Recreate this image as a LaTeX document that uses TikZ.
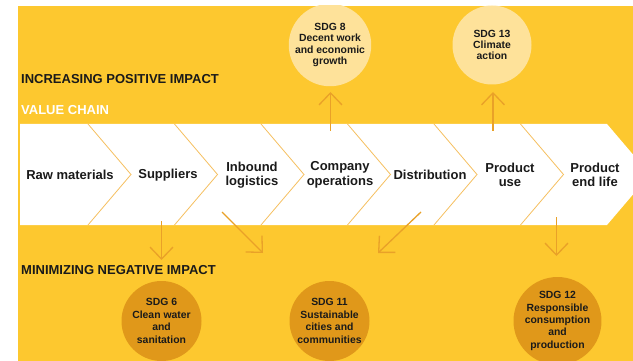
\documentclass[tikz,border=0pt]{standalone}
\usepackage{fontspec}
\setmainfont{Liberation Sans}
\usetikzlibrary{arrows.meta}

\definecolor{sdgyellow}{RGB}{253,200,47}
\definecolor{sdglight}{RGB}{254,226,154}
\definecolor{sdgdark}{RGB}{224,152,26}
\definecolor{sdgline}{RGB}{233,161,40}
\definecolor{sdgdiv}{RGB}{246,192,96}
\definecolor{sdgtext}{RGB}{26,26,26}

\begin{document}
\begin{tikzpicture}[x=1pt, y=-1pt, >={Straight Barb[length=12pt,width=23pt]},
  heading/.style={anchor=west, inner sep=0pt, font=\bfseries\fontsize{13}{15}\selectfont, text=sdgtext},
  stepname/.style={align=center, inner sep=0pt, font=\bfseries\fontsize{13}{14.5}\selectfont, text=sdgtext},
  goalup/.style={circle, fill=sdglight, minimum size=79pt, inner sep=0pt, align=center,
    font=\bfseries\fontsize{10.4}{11.4}\selectfont, text=sdgtext},
  goaldown/.style={goalup, fill=sdgdark, minimum size=80pt, font=\bfseries\fontsize{10.4}{12.4}\selectfont},
  impact/.style={->, draw=sdgline, line width=1.3pt}]
  \useasboundingbox (0,0) rectangle (633,361);
  \fill[sdgyellow] (18,6) rectangle (633,361);

  \begin{scope}
    \clip (18,6) rectangle (633,361);
    \fill[white] (20,124) -- (607,124) -- (650,174.5) -- (607,225) -- (20,225) -- cycle;
    \foreach \x in {88,174.5,261,347.5,434,520.5}
      \draw[sdgdiv, line width=0.8pt] (\x,124) -- (\x+43,174.5) -- (\x,225);

    \node[goalup] (sdg8) at (330,45) {SDG 8\\Decent work\\and economic\\growth};
    \node[goalup] (sdg13) at (492,45) {SDG 13\\Climate\\action};
    \node[goaldown] (sdg6) at (161.5,321) {SDG 6\\Clean water\\and\\sanitation};
    \node[goaldown] (sdg11) at (329.5,321) {SDG 11\\Sustainable\\cities and\\communities};
    \node[goaldown] (sdg12) at (557.5,321) {SDG 12\\Responsible\\consumption\\and\\production};
  \end{scope}

  \node[heading] (pos) at (21,79) {INCREASING POSITIVE IMPACT};
  \node[heading, text=white] (chain) at (21,110.5) {VALUE CHAIN};
  \node[heading] (neg) at (21,270) {MINIMIZING NEGATIVE IMPACT};

  \node[stepname] (raw) at (70,175) {Raw materials};
  \node[stepname] (sup) at (168,175) {Suppliers};
  \node[stepname] (inb) at (252,175) {Inbound\\logistics};
  \node[stepname] (ops) at (340,175) {Company\\operations};
  \node[stepname] (dist) at (430,175) {Distribution};
  \node[stepname] (use) at (510,175) {Product\\use};
  \node[stepname] (eol) at (595,175) {Product\\end life};

  \coordinate (up8a) at (330.5,131);
  \coordinate (up8b) at (330.5,92);
  \coordinate (up13a) at (493,131);
  \coordinate (up13b) at (493,92);
  \coordinate (dn6a) at (161.5,221);
  \coordinate (dn6b) at (161.5,260);
  \coordinate (dninb) at (222,212);
  \coordinate (dninbb) at (263,253);
  \coordinate (dn11a) at (421,212);
  \coordinate (dn11b) at (378,253);
  \coordinate (dn12a) at (556.5,217);
  \coordinate (dn12b) at (556.5,256);

  \draw[impact] (up8a) -- (up8b);
  \draw[impact] (up13a) -- (up13b);
  \draw[impact] (dn6a) -- (dn6b);
  \draw[impact] (dninb) -- (dninbb);
  \draw[impact] (dn11a) -- (dn11b);
  \draw[impact] (dn12a) -- (dn12b);
\end{tikzpicture}
\end{document}
